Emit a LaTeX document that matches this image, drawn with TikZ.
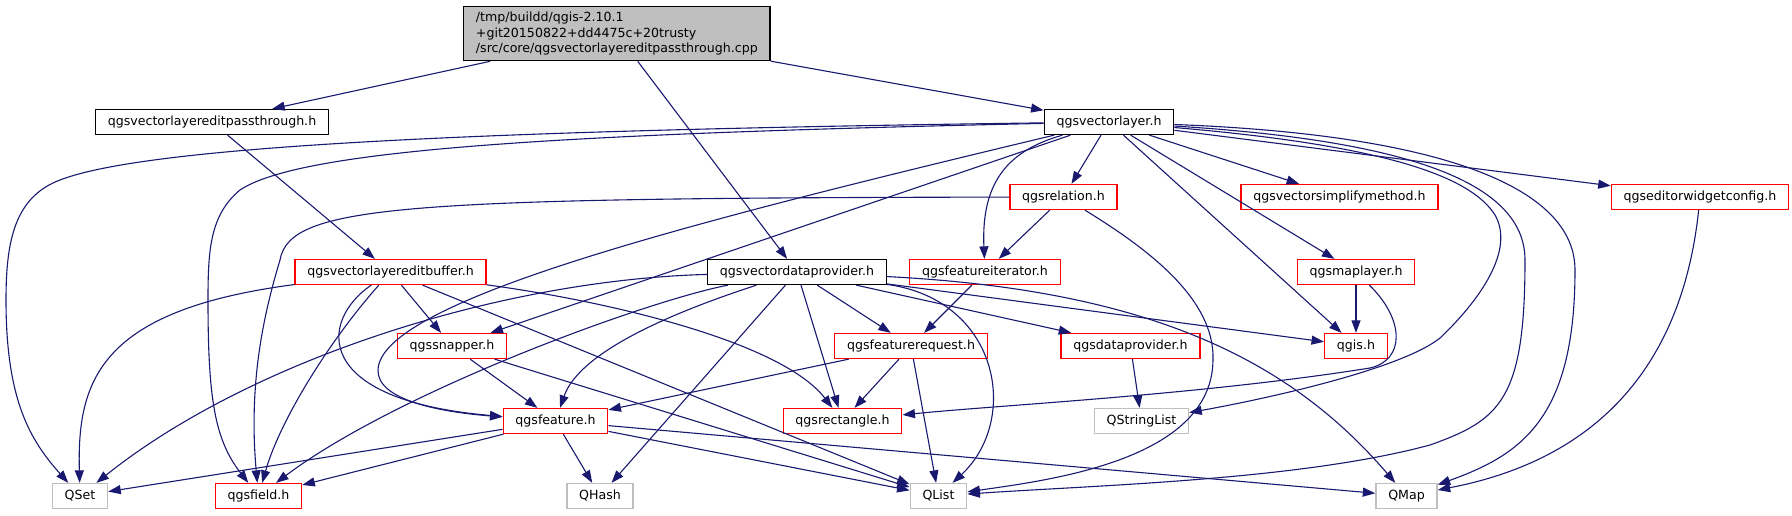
\documentclass[tikz,border=0pt]{standalone}
\usepackage{fontspec}
\setmainfont{DejaVu Sans}
\usetikzlibrary{arrows.meta}
\definecolor{edgex}{HTML}{191970}
\definecolor{redx}{HTML}{FF0000}
\definecolor{grayx}{HTML}{BFBFBF}
\tikzset{
  ar/.style={-{Triangle[length=12.5pt,width=9pt]},line width=1.1pt,edgex},
  box/.style={draw,line width=1.3pt,fill=white,inner xsep=12.3pt,inner ysep=0pt,minimum height=25pt,font=\fontsize{12.6}{15.5}\selectfont},
  incl/.style={box,draw=black},
  proj/.style={box,draw=redx},
  ext/.style={box,draw=grayx},
  hdr/.style={box,draw=black,fill=grayx,align=left,minimum height=54pt,anchor=north west}
}
\begin{document}
\begin{tikzpicture}[x=1pt,y=-1pt]
\useasboundingbox (0,0) rectangle (1792,515);
\node[hdr] (src) at (463,6) {/tmp/buildd/qgis-2.10.1\\+git20150822+dd4475c+20trusty\\/src/core/qgsvectorlayereditpassthrough.cpp};
\node[incl] (pass) at (212,122) {qgsvectorlayereditpassthrough.h};
\node[incl] (vlayer) at (1109,122) {qgsvectorlayer.h};
\node[proj] (rel) at (1063.5,197) {qgsrelation.h};
\node[proj] (simp) at (1339.5,197) {qgsvectorsimplifymethod.h};
\node[proj] (ewc) at (1700,197) {qgseditorwidgetconfig.h};
\node[proj] (ebuf) at (390.5,272) {qgsvectorlayereditbuffer.h};
\node[incl] (vdp) at (797,272) {qgsvectordataprovider.h};
\node[proj] (fit) at (985,272) {qgsfeatureiterator.h};
\node[proj] (mlay) at (1356,272) {qgsmaplayer.h};
\node[proj] (snap) at (452,346) {qgssnapper.h};
\node[proj] (freq) at (911,346) {qgsfeaturerequest.h};
\node[proj] (dprov) at (1130.5,346) {qgsdataprovider.h};
\node[proj] (qgis) at (1356,346) {qgis.h};
\node[proj] (feat) at (555.5,421) {qgsfeature.h};
\node[proj] (rect) at (842.5,421) {qgsrectangle.h};
\node[ext] (qsl) at (1141.5,421) {QStringList};
\node[ext] (qset) at (80,496) {QSet};
\node[proj] (fld) at (258.5,496) {qgsfield.h};
\node[ext] (qhash) at (600,496) {QHash};
\node[ext] (qlist) at (938.5,496) {QList};
\node[ext] (qmap) at (1406.5,496) {QMap};
\draw[ar] (src) -- (pass);
\draw[ar] (src) -- (vdp);
\draw[ar] (src) -- (vlayer);
\draw[ar] (pass) -- (ebuf);
\draw[ar] (vlayer) .. controls (500,130) and (150,145) .. (60,180) .. controls (15,197) and (6,240) .. (6,300) .. controls (6,400) and (30,440) .. (qset);
\draw[ar] (vlayer) .. controls (550,134) and (300,150) .. (240,190) .. controls (210,215) and (208,250) .. (208,300) .. controls (208,400) and (215,440) .. (fld);
\draw[ar] (vlayer) .. controls (700,220) and (380,300) .. (378,370) .. controls (377,400) and (440,412) .. (feat);
\draw[ar] (vlayer) -- (snap);
\draw[ar] (vlayer) -- (rel);
\draw[ar] (vlayer) .. controls (1010,150) and (981,180) .. (fit);
\draw[ar] (vlayer) -- (simp);
\draw[ar] (vlayer) -- (ewc);
\draw[ar] (vlayer) -- (mlay);
\draw[ar] (vlayer) -- (qgis);
\draw[ar] (vlayer) .. controls (1380,145) and (1470,175) .. (1495,215) .. controls (1515,250) and (1480,300) .. (1440,338) .. controls (1400,370) and (1260,400) .. (qsl);
\draw[ar] (vlayer) .. controls (1400,140) and (1525,180) .. (1525,260) .. controls (1525,400) and (1500,420) .. (1430,445) .. controls (1300,480) and (1100,485) .. (qlist);
\draw[ar] (vlayer) .. controls (1450,135) and (1575,190) .. (1575,270) .. controls (1575,420) and (1520,455) .. (qmap);
\draw[ar] (rel) -- (fit);
\draw[ar] (rel) .. controls (400,198) and (290,205) .. (280,260) .. controls (265,310) and (248,380) .. (fld);
\draw[ar] (rel) .. controls (1150,250) and (1215,300) .. (1213,360) .. controls (1212,460) and (1050,480) .. (qlist);
\draw[ar] (ewc) .. controls (1685,340) and (1620,455) .. (qmap);
\draw[ar] (ebuf) .. controls (100,310) and (77,380) .. (qset);
\draw[ar] (ebuf) .. controls (330,340) and (280,420) .. (fld);
\draw[ar] (ebuf) .. controls (320,320) and (310,400) .. (feat);
\draw[ar] (ebuf) -- (snap);
\draw[ar] (ebuf) -- (qlist);
\draw[ar] (ebuf) .. controls (600,300) and (780,340) .. (rect);
\draw[ar] (vdp) .. controls (500,280) and (250,360) .. (qset);
\draw[ar] (vdp) .. controls (650,300) and (400,390) .. (fld);
\draw[ar] (vdp) .. controls (680,310) and (580,350) .. (feat);
\draw[ar] (vdp) -- (qhash);
\draw[ar] (vdp) -- (rect);
\draw[ar] (vdp) -- (freq);
\draw[ar] (vdp) -- (dprov);
\draw[ar] (vdp) -- (qgis);
\draw[ar] (vdp) .. controls (1000,300) and (1020,420) .. (qlist);
\draw[ar] (vdp) .. controls (1150,290) and (1290,360) .. (qmap);
\draw[ar] (fit) -- (freq);
\draw[ar] (mlay) -- (qgis);
\draw[ar] (mlay) .. controls (1405,320) and (1405,360) .. (1370,368) .. controls (1200,395) and (1000,405) .. (rect);
\draw[ar] (snap) -- (feat);
\draw[ar] (snap) -- (qlist);
\draw[ar] (freq) -- (feat);
\draw[ar] (freq) -- (rect);
\draw[ar] (freq) -- (qlist);
\draw[ar] (dprov) -- (qsl);
\draw[ar] (feat) -- (qset);
\draw[ar] (feat) -- (fld);
\draw[ar] (feat) -- (qhash);
\draw[ar] (feat) -- (qlist);
\draw[ar] (feat) -- (qmap);
\end{tikzpicture}
\end{document}
